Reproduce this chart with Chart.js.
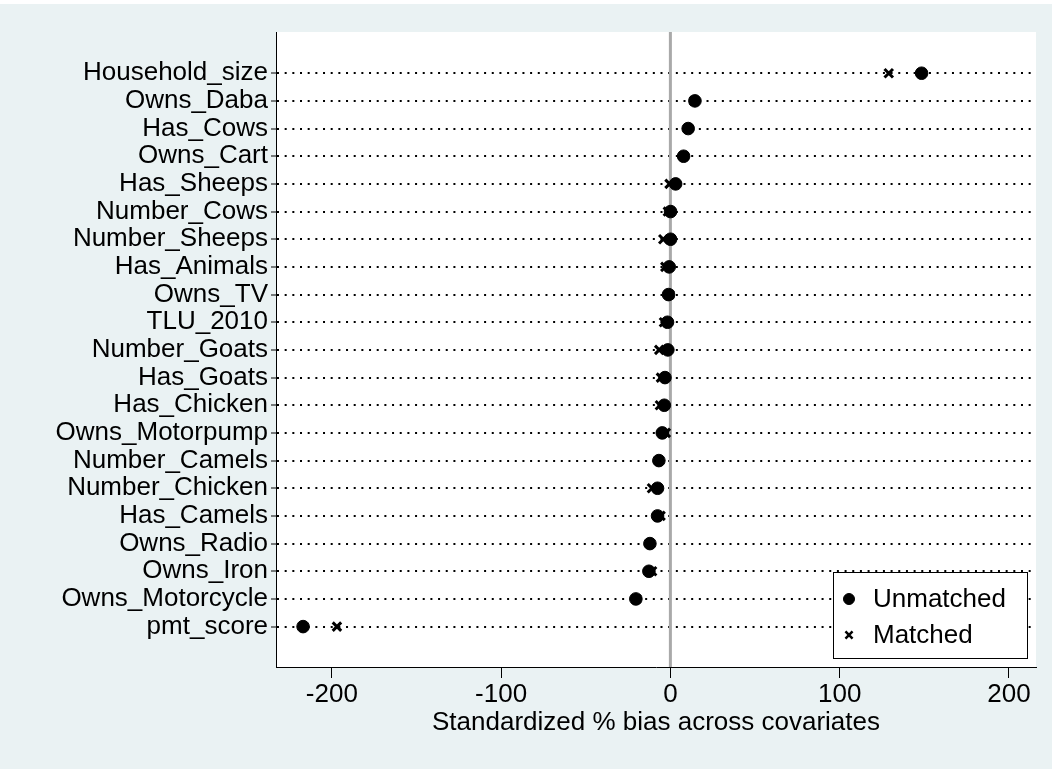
<!DOCTYPE html>
<html>
<head>
<meta charset="utf-8">
<script src="https://cdn.jsdelivr.net/npm/chart.js@4/dist/chart.umd.min.js"></script>
<style>
  html, body { margin: 0; padding: 0; background: #eaf2f3; }
  #wrap { width: 1052px; height: 769px; position: relative; }
</style>
</head>
<body>
<div id="wrap"><canvas id="c" width="1052" height="769"></canvas></div>
<script>
const categories = ['Household_size','Owns_Daba','Has_Cows','Owns_Cart','Has_Sheeps','Number_Cows','Number_Sheeps','Has_Animals','Owns_TV','TLU_2010','Number_Goats','Has_Goats','Has_Chicken','Owns_Motorpump','Number_Camels','Number_Chicken','Has_Camels','Owns_Radio','Owns_Iron','Owns_Motorcycle','pmt_score'];
const unmatched = [148.4, 14.5, 10.5, 7.8, 3.1, 0.1, 0.1, -0.7, -1.1, -1.7, -1.5, -3.2, -3.6, -4.8, -6.8, -7.6, -7.6, -12.1, -12.7, -20.4, -217];
const matched = [129, 14, 10.5, 8, -0.5, -1.5, -4.2, -3, -0.5, -3.8, -6.6, -5.6, -6.2, -2.7, -6.8, -10.9, -5.8, -12, -10.8, -20, -197];
const xTicks = [-200, -100, 0, 100, 200];
const seriesNames = ['Unmatched', 'Matched'];
const xTitle = 'Standardized % bias across covariates';

const FONT = "'Liberation Sans', Arial, sans-serif";
const n = categories.length;
const rowPos = i => n - 1 - i;

const bgPlugin = {
  id: 'bg',
  beforeDraw(chart) {
    const {ctx, chartArea: a} = chart;
    ctx.save();
    ctx.fillStyle = '#eaf2f3';
    ctx.fillRect(0, 0, chart.width, chart.height);
    ctx.fillStyle = '#ffffff';
    ctx.fillRect(0, 0, chart.width, 4);
    ctx.fillRect(a.left, a.top, a.right - a.left, a.bottom - a.top);
    ctx.restore();
  }
};

const legendPlugin = {
  id: 'boxLegend',
  afterDraw(chart) {
    const {ctx} = chart;
    const a = chart.chartArea;
    const x0 = a.right - 203, y0 = a.bottom - 95, w = 194, h = 86;
    ctx.save();
    ctx.fillStyle = '#ffffff';
    ctx.fillRect(x0, y0, w, h);
    ctx.strokeStyle = '#000';
    ctx.lineWidth = 1;
    ctx.strokeRect(x0 + 0.5, y0 + 0.5, w, h);
    ctx.font = '26px ' + FONT;
    ctx.textBaseline = 'middle';
    const ds = chart.data.datasets;
    [0, 1].forEach((k, j) => {
      const cy = y0 + 27 + j * 36;
      ctx.fillStyle = '#000';
      ctx.strokeStyle = '#000';
      ctx.lineWidth = k === 0 ? 1 : 2.5;
      Chart.helpers.drawPoint(ctx, {
        pointStyle: ds[k].pointStyle,
        radius: k === 0 ? 5.5 : 5,
        borderWidth: ctx.lineWidth
      }, x0 + 16, cy);
      ctx.fillStyle = '#000';
      ctx.fillText(ds[k].label, x0 + 40, cy + 1);
    });
    ctx.restore();
  }
};

new Chart(document.getElementById('c'), {
  type: 'scatter',
  data: {
    datasets: [
      {
        label: seriesNames[0],
        data: unmatched.map((v, i) => ({x: v, y: rowPos(i)})),
        pointStyle: 'circle',
        pointRadius: 6.3,
        pointBackgroundColor: '#000',
        pointBorderColor: '#000',
        pointBorderWidth: 1
      },
      {
        label: seriesNames[1],
        data: matched.map((v, i) => ({x: v, y: rowPos(i)})),
        pointStyle: 'crossRot',
        pointRadius: 6,
        pointBorderColor: '#000',
        pointBackgroundColor: '#000',
        pointBorderWidth: 3
      },
      {
        label: 'zero',
        type: 'line',
        data: [{x: 0, y: -1.46}, {x: 0, y: n - 1 + 1.49}],
        borderColor: '#a9a9a9',
        borderWidth: 3,
        pointRadius: 0
      }
    ]
  },
  options: {
    responsive: false,
    animation: false,
    devicePixelRatio: 1,
    layout: { padding: { top: 32, right: 16, left: 0, bottom: 0 } },
    plugins: { legend: { display: false }, tooltip: { enabled: false } },
    scales: {
      x: {
        type: 'linear',
        min: -233, max: 216,
        afterBuildTicks: s => { s.ticks = xTicks.map(v => ({value: v})); },
        afterFit: s => { s.height = 102; },
        grid: { drawOnChartArea: false, drawTicks: true, tickLength: 11, tickColor: '#000', tickWidth: 1 },
        border: { display: true, color: '#000', width: 1 },
        ticks: { color: '#000', font: { family: FONT, size: 26 }, padding: 1, maxRotation: 0 },
        title: { display: true, text: xTitle, color: '#000', font: { family: FONT, size: 26 }, padding: { top: 0, bottom: 31 } }
      },
      y: {
        type: 'linear',
        min: -1.46, max: n - 1 + 1.49,
        afterBuildTicks: s => { s.ticks = categories.map((c, i) => ({value: rowPos(i)})); },
        afterFit: s => { s.width = 276; },
        grid: { color: '#000', lineWidth: 2, drawTicks: true, tickLength: 5, tickColor: '#000', tickWidth: 1, tickBorderDash: [] },
        border: { display: true, color: '#000', width: 1, dash: [2, 5.67] },
        ticks: {
          autoSkip: false, color: '#000', padding: 3,
          font: { family: FONT, size: 26 },
          callback: v => categories[n - 1 - v]
        }
      }
    }
  },
  plugins: [bgPlugin, legendPlugin]
});
</script>
</body>
</html>
